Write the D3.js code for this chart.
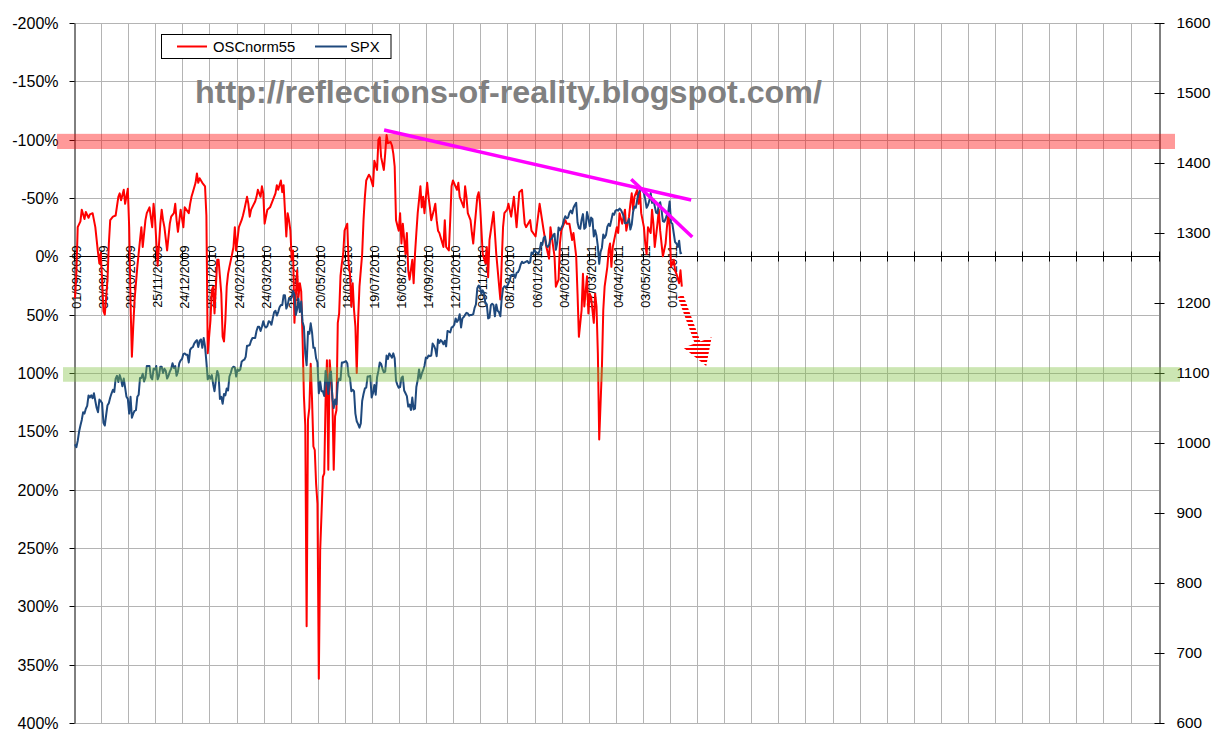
<!DOCTYPE html>
<html><head><meta charset="utf-8">
<script src="https://cdn.jsdelivr.net/npm/d3@7"></script>
<style>
html,body{margin:0;padding:0;background:#fff;}
svg{display:block;}
text{font-family:"Liberation Sans",Arial,sans-serif;}
</style></head><body>
<svg id="chart" width="1223" height="744"></svg>
<script>
// ---------- DATA ----------
const tickLabels = ["01/09/2009","30/09/2009","28/10/2009","25/11/2009","24/12/2009","26/01/2010",
  "24/02/2010","24/03/2010","22/04/2010","20/05/2010","18/06/2010","19/07/2010","16/08/2010",
  "14/09/2010","12/10/2010","09/11/2010","08/12/2010","06/01/2011","04/02/2011","07/03/2011",
  "04/04/2011","03/05/2011","01/06/2011"];
const oscTicks = [-200,-150,-100,-50,0,50,100,150,200,250,300,350,400];
const spxTicks = [600,700,800,900,1000,1100,1200,1300,1400,1500,1600];
const seriesNames = ["OSCnorm55","SPX"];

// SPX daily closes (trading day index 0 = 01/09/2009)
const spx = [998,994,1003,1016,1025,1033,1044,1042,1049,1053,1068,1065,1068,1064,1071,1060,1050,1044,1062,1060,
1057,1029,1025,1040,1054,1057,1065,1071,1076,1073,1092,1096,1087,1097,1091,1081,1092,1079,1066,1063,
1042,1066,1036,1042,1046,1047,1066,1069,1093,1093,1099,1088,1093,1110,1110,1110,1094,1091,1106,1105,
1110,1091,1096,1109,1109,1100,1106,1103,1092,1096,1102,1106,1114,1107,1110,1096,1102,1114,1118,1120,
1127,1128,1126,1126,1115,1133,1136,1137,1142,1145,1147,1137,1146,1148,1136,1150,1138,1116,1091,1096,
1092,1097,1084,1074,1090,1103,1097,1063,1066,1056,1070,1068,1078,1075,1095,1100,1107,1109,1108,1095,
1105,1103,1105,1116,1118,1119,1123,1139,1139,1140,1146,1150,1150,1150,1160,1166,1166,1160,1166,1174,
1167,1165,1167,1174,1173,1169,1178,1187,1189,1182,1187,1194,1197,1197,1211,1211,1192,1197,1207,1205,
1208,1217,1212,1183,1191,1206,1187,1202,1173,1166,1128,1111,1159,1156,1171,1158,1136,1136,1121,1115,
1071,1088,1074,1074,1067,1103,1089,1070,1098,1102,1064,1050,1062,1055,1086,1092,1090,1115,1115,1116,
1117,1114,1096,1093,1074,1076,1074,1042,1031,1027,1022,1028,1060,1070,1078,1079,1095,1095,1096,1065,
1071,1083,1069,1094,1103,1115,1113,1106,1101,1102,1125,1120,1128,1125,1122,1128,1121,1089,1083,1079,
1080,1093,1095,1075,1071,1067,1052,1055,1047,1065,1048,1049,1080,1090,1105,1092,1099,1104,1110,1122,
1121,1125,1124,1125,1142,1139,1134,1124,1148,1143,1147,1145,1141,1146,1138,1160,1159,1158,1165,1166,
1169,1178,1173,1176,1184,1165,1178,1180,1183,1186,1185,1182,1183,1183,1184,1193,1198,1221,1225,1223,
1213,1218,1214,1199,1198,1178,1179,1197,1199,1197,1181,1198,1189,1187,1181,1206,1221,1224,1223,1224,
1228,1233,1240,1240,1241,1236,1243,1244,1248,1255,1259,1257,1258,1259,1260,1257,1258,1272,1270,1276,
1273,1272,1270,1275,1286,1283,1293,1295,1282,1280,1283,1291,1292,1297,1299,1276,1286,1308,1304,1307,
1311,1319,1324,1321,1322,1329,1332,1328,1336,1340,1343,1315,1307,1306,1319,1327,1306,1308,1330,1321,
1310,1322,1320,1295,1304,1296,1281,1256,1273,1279,1298,1293,1297,1309,1313,1310,1319,1328,1326,1332,
1333,1332,1335,1333,1329,1324,1314,1314,1315,1320,1305,1312,1330,1338,1336,1347,1356,1360,1364,1361,
1357,1348,1336,1340,1346,1357,1343,1348,1338,1329,1328,1341,1344,1333,1317,1316,1320,1326,1331,1345,
1315,1313,1300,1287,1285,1280,1289,1271,1272];

// OSCnorm55 readings: [trading day index, value in %]
const oscPoints = [[0,36],[1,15],[2,-25],[4,-30],[5,-40],[7,-32],[8,-38],[10,-33],[11,-36],[13,-37],[15,-25],[17,-3],[18,6],[19,-3],[20,20],[21,47],[22,50],[24,20],[25,-11],[26,-31],[28,-34],[30,-35],[32,-51],[33,-54],[34,-48],[36,-57],[37,-45],[39,-58],[40,-25],[41,40],[42,86],[43,60],[44,37],[46,9],[48,-14],[49,-25],[50,-8],[52,-31],[53,-37],[55,-42],[57,-25],[58,-45],[59,-34],[61,8],[63,-28],[64,-40],[65,-31],[66,-25],[68,-5],[70,-28],[71,-34],[73,-37],[74,-45],[75,-31],[76,-21],[78,-40],[80,-25],[81,-42],[84,-37],[85,-45],[86,-51],[87,-55],[89,-63],[90,-71],[91,-63],[92,-67],[94,-63],[96,-60],[97,-35],[98,83],[100,55],[101,29],[102,26],[103,49],[105,3],[106,3],[108,32],[109,69],[110,73],[111,55],[112,26],[113,15],[114,9],[116,-2],[117,-8],[118,-25],[119,-5],[121,-25],[122,-28],[123,-31],[124,-35],[125,-40],[127,-51],[128,-45],[129,-34],[130,-40],[133,-47],[134,-51],[135,-57],[137,-51],[138,-60],[139,-54],[140,-28],[142,-40],[144,-42],[146,-48],[148,-54],[149,-61],[150,-57],[152,-65],[153,-55],[154,-61],[156,-17],[157,-37],[158,-31],[159,-22],[160,3],[161,-5],[162,57],[164,12],[165,35],[166,23],[167,30],[168,70],[169,120],[170,145],[171,317],[172,140],[173,130],[174,92],[175,123],[176,163],[177,166],[178,195],[179,212],[180,362],[181,252],[183,189],[184,186],[185,123],[186,89],[187,183],[188,89],[190,120],[191,183],[192,137],[193,132],[194,57],[195,49],[196,17],[197,6],[198,-2],[199,-22],[201,-28],[202,6],[203,15],[204,43],[205,23],[206,46],[207,60],[208,100],[209,55],[210,26],[212,-2],[213,-31],[214,-51],[215,-65],[217,-70],[218,-68],[220,-60],[221,-82],[223,-74],[224,-100],[225,-102],[226,-85],[228,-74],[229,-88],[230,-104],[231,-97],[233,-98],[234,-95],[235,-88],[236,-77],[237,-31],[239,-22],[240,-37],[241,-11],[242,-28],[244,-2],[245,-20],[246,12],[247,20],[249,3],[250,23],[251,-2],[252,-20],[253,-37],[255,-60],[256,-42],[257,-51],[258,-37],[260,-63],[261,-51],[262,-42],[263,-31],[265,-40],[266,-45],[267,-31],[268,-22],[269,-20],[272,-8],[273,-31],[274,-8],[276,-5],[277,-31],[278,-60],[279,-65],[282,-57],[283,-63],[284,-51],[287,-42],[288,-60],[289,-51],[290,-37],[292,-31],[293,-20],[294,-11],[295,-25],[297,-51],[298,-55],[299,-45],[301,-2],[303,6],[304,-8],[305,18],[306,-14],[309,-38],[311,-2],[314,37],[315,6],[316,-25],[317,-37],[319,-40],[320,-45],[322,-34],[324,-51],[326,-25],[328,-55],[330,-57],[331,-42],[332,-28],[333,-25],[336,-31],[337,-22],[340,-17],[343,-45],[346,-22],[348,-8],[350,2],[351,-25],[354,0],[355,26],[357,20],[358,-11],[359,-22],[362,-31],[363,-28],[365,-28],[367,-14],[368,-20],[370,0],[371,32],[372,69],[374,46],[375,15],[376,43],[378,17],[379,49],[380,32],[381,35],[383,57],[384,32],[385,43],[386,83],[387,157],[389,95],[390,46],[391,26],[393,9],[394,-5],[395,-11],[396,9],[397,-8],[400,-25],[401,-20],[402,-37],[404,-28],[406,-40],[407,-22],[409,-34],[410,-45],[411,-54],[412,-40],[413,-51],[415,-57],[416,-45],[417,-57],[418,-37],[420,-25],[421,-11],[422,-2],[423,-25],[425,-20],[426,-40],[427,-28],[428,-8],[430,-28],[431,-40],[432,-22],[434,0],[436,-11],[437,-25],[438,-37],[439,-25],[440,9],[442,3],[443,12],[444,15],[446,23],[447,12],[448,26]];

// Annotations, in (trading day index, OSC %) coordinates
const bandPink = [-105, -92];
const bandGreen = [95, 107.5];
const trendLines = [[[228.2,-108.3],[454.9,-48.3]], [[410.6,-66],[455.7,-16.5]]];
const arrowFromTo = [[447,34],[466,94]];
const watermark = "http://reflections-of-reality.blogspot.com/";

// ---------- CHART ----------
const plot = {left:74, right:1159, top:23, bottom:723};
const nCats = 801, tickEvery = 20;
const x = d3.scaleLinear().domain([0, nCats]).range([plot.left, plot.right]);
const xd = i => x(i) + 1;
const yOsc = d3.scaleLinear().domain([-200, 400]).range([plot.top, plot.bottom]);
const ySpx = d3.scaleLinear().domain([1600, 600]).range([plot.top, plot.bottom]);
const crisp = v => Math.round(v) + 0.5;
const svg = d3.select("#chart");
const GRID = "#b4b4b4";

const defs = svg.append("defs");
const pat = defs.append("pattern").attr("id","stripes").attr("patternUnits","userSpaceOnUse")
  .attr("width",10).attr("height",4);
pat.append("rect").attr("width",10).attr("height",2).attr("fill","#ff0000");

// gridlines
const catTicks = d3.range(0, nCats - 1, tickEvery);
svg.append("g").selectAll("line").data(oscTicks).join("line")
  .attr("x1", plot.left).attr("x2", plot.right)
  .attr("y1", d => crisp(yOsc(d))).attr("y2", d => crisp(yOsc(d)))
  .attr("stroke", GRID).attr("stroke-width", 1);
svg.append("g").selectAll("line").data(catTicks.slice(1)).join("line")
  .attr("x1", d => crisp(x(d))).attr("x2", d => crisp(x(d)))
  .attr("y1", plot.top).attr("y2", plot.bottom)
  .attr("stroke", GRID).attr("stroke-width", 1);

// category axis at 0%
const y0 = crisp(yOsc(0));
svg.append("line").attr("x1", plot.left).attr("x2", plot.right).attr("y1", y0).attr("y2", y0)
  .attr("stroke", "#000");
svg.append("g").selectAll("line").data(catTicks.concat([nCats])).join("line")
  .attr("x1", d => crisp(x(d))).attr("x2", d => crisp(x(d)))
  .attr("y1", y0 - 5).attr("y2", y0 + 5).attr("stroke", "#000");
svg.append("g").selectAll("text").data(tickLabels).join("text")
  .attr("transform", (d, i) => `translate(${x(i * tickEvery) + 7},${y0 - 11}) rotate(-90)`)
  .attr("text-anchor","end")
  .attr("font-size", "12.65px").attr("fill", "#000")
  .text(d => d);

// left axis
const axL = svg.append("g").attr("transform", `translate(${plot.left + 0.5},0)`)
  .call(d3.axisLeft(yOsc).tickValues(oscTicks).tickFormat(d => d + "%").tickSize(5).tickSizeOuter(0).tickPadding(11));
axL.selectAll("text").attr("font-size", "16px").attr("font-family", '"Liberation Sans",Arial,sans-serif').attr("fill","#000");
axL.selectAll("line").attr("stroke", "#000");
axL.select(".domain").attr("stroke", "#000");
axL.selectAll(".tick").attr("transform", d => `translate(0,${crisp(yOsc(d))})`);

// right axis
const axR = svg.append("g").attr("transform", `translate(${plot.right + 0.5},0)`)
  .call(d3.axisRight(ySpx).tickValues(spxTicks).tickFormat(d3.format("d")).tickSize(5).tickSizeOuter(0).tickPadding(12));
axR.selectAll("text").attr("font-size", "15.3px").attr("font-family", '"Liberation Sans",Arial,sans-serif').attr("fill","#000");
axR.selectAll(".tick line").attr("x1", -5).attr("x2", 5).attr("stroke", "#000");
axR.select(".domain").attr("stroke", "#000");
axR.selectAll(".tick").attr("transform", d => `translate(0,${crisp(ySpx(d))})`);

// series
const lineOsc = d3.line().x(d => xd(d[0])).y(d => yOsc(d[1]));
const lineSpx = d3.line().x((d, i) => xd(i)).y(d => ySpx(d));
svg.append("path").datum(oscPoints).attr("d", lineOsc)
  .attr("fill", "none").attr("stroke", "#ff0000").attr("stroke-width", 2).attr("stroke-linejoin","round");
svg.append("path").datum(spx).attr("d", lineSpx)
  .attr("fill", "none").attr("stroke", "#1f497d").attr("stroke-width", 2).attr("stroke-linejoin","round");

// bands (semi-transparent, on top)
svg.append("rect").attr("x", plot.left - 17).attr("width", plot.right - plot.left + 33)
  .attr("y", yOsc(bandPink[0])).attr("height", yOsc(bandPink[1]) - yOsc(bandPink[0]))
  .attr("fill", "#ff0000").attr("fill-opacity", 0.4);
svg.append("rect").attr("x", plot.left - 11).attr("width", plot.right - plot.left + 32)
  .attr("y", yOsc(bandGreen[0])).attr("height", yOsc(bandGreen[1]) - yOsc(bandGreen[0]))
  .attr("fill", "#80c040").attr("fill-opacity", 0.4);

// trend lines
svg.append("g").selectAll("line").data(trendLines).join("line")
  .attr("x1", d => xd(d[0][0])).attr("y1", d => yOsc(d[0][1]))
  .attr("x2", d => xd(d[1][0])).attr("y2", d => yOsc(d[1][1]))
  .attr("stroke", "#ff00ff").attr("stroke-width", 3.5);

// striped arrow
{
  const [a, b] = arrowFromTo;
  const S = [xd(a[0]), yOsc(a[1])], T = [xd(b[0]), yOsc(b[1])];
  const dx = T[0] - S[0], dy = T[1] - S[1], L = Math.hypot(dx, dy);
  const u = [dx / L, dy / L], n = [-u[1], u[0]];
  const headLen = 25, headHalf = 15, shaftHalf = 3;
  const B = [T[0] - u[0] * headLen, T[1] - u[1] * headLen];
  const p = (P, k) => [P[0] + n[0] * k, P[1] + n[1] * k];
  const pts = [p(S, shaftHalf), p(B, shaftHalf), p(B, headHalf), T, p(B, -headHalf), p(B, -shaftHalf), p(S, -shaftHalf)];
  svg.append("polygon").attr("points", pts.map(q => q.join(",")).join(" ")).attr("fill", "url(#stripes)");
}

// watermark
svg.append("text").attr("x", 195).attr("y", 103).attr("font-size", "31px").attr("font-weight", "bold")
  .attr("fill", "#808080").attr("textLength", 627).attr("lengthAdjust", "spacingAndGlyphs").text(watermark);

// legend
const lg = svg.append("g");
lg.append("rect").attr("x", 161.5).attr("y", 34.5).attr("width", 229.5).attr("height", 24)
  .attr("fill", "#fff").attr("stroke", "#000");
const legendItems = [{name: seriesNames[0], color: "#ff0000", x0: 177, x1: 207, tx: 213},
                     {name: seriesNames[1], color: "#1f497d", x0: 315, x1: 347, tx: 350}];
legendItems.forEach(it => {
  lg.append("line").attr("x1", it.x0).attr("x2", it.x1).attr("y1", 46.5).attr("y2", 46.5)
    .attr("stroke", it.color).attr("stroke-width", 2);
  lg.append("text").attr("x", it.tx).attr("y", 51.5).attr("font-size", "14.8px").attr("fill", "#000").text(it.name);
});
</script>
</body></html>
